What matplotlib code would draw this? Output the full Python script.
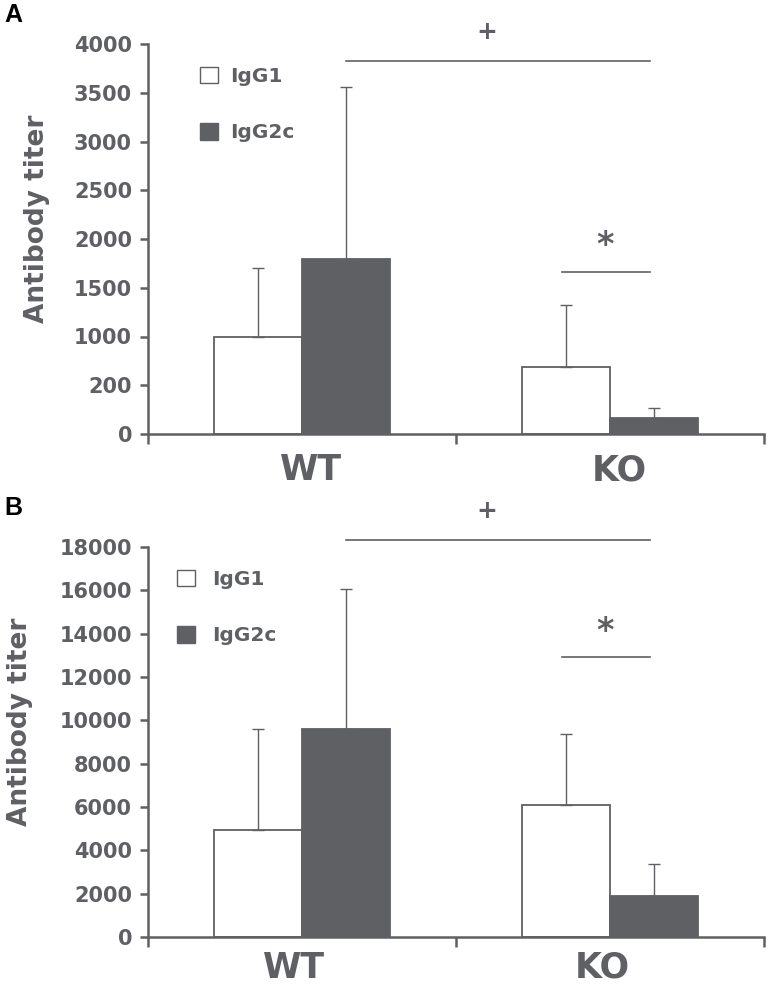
import numpy as np
import matplotlib
matplotlib.use('Agg')
import matplotlib.pyplot as plt

# chart values
groups = ['WT', 'KO']

a_igg1 = [1000, 690]
a_igg1_err = [700, 635]
a_igg2c = [1800, 165]
a_igg2c_err = [1760, 100]
a_ticks = [0, 500, 1000, 1500, 2000, 2500, 3000, 3500, 4000]
a_ticklabels = ['0', '200', '1000', '1500', '2000', '2500', '3000', '3500', '4000']

b_igg1 = [4950, 6100]
b_igg1_err = [4650, 3270]
b_igg2c = [9600, 1900]
b_igg2c_err = [6460, 1470]
b_ticks = [0, 2000, 4000, 6000, 8000, 10000, 12000, 14000, 16000, 18000]
b_ticklabels = [str(t) for t in b_ticks]

GRAY = '#5f6063'
plt.rcParams['font.family'] = ['DejaVu Sans']
plt.rcParams['font.weight'] = 'bold'


def draw_panel(ax, igg1, igg1_err, igg2c, igg2c_err, ticks, ticklabels, ymax,
               plus_y, plus_line_y, star_y, star_line_y, legend_x, pad_text,
               handlepad, label_x, label_dx):
    x = np.arange(len(groups))
    w = 0.286
    ax.bar(x - w / 2, igg1, w, color='white', edgecolor=GRAY, linewidth=1.3,
           label='IgG1', zorder=2)
    ax.bar(x + w / 2, igg2c, w, color=GRAY, edgecolor=GRAY, linewidth=1.3,
           label='IgG2c', zorder=2)
    ax.errorbar(x - w / 2, igg1, yerr=[np.zeros(len(x)), igg1_err], fmt='none',
                ecolor=GRAY, elinewidth=1.0, capsize=4.5, capthick=1.0, zorder=3)
    ax.errorbar(x + w / 2, igg2c, yerr=[np.zeros(len(x)), igg2c_err], fmt='none',
                ecolor=GRAY, elinewidth=1.0, capsize=4.5, capthick=1.0, zorder=1)

    ax.set_xlim(-0.5, 1.5)
    ax.set_ylim(0, ymax)
    ax.set_yticks(ticks)
    ax.set_yticklabels(ticklabels)
    ax.set_xticks([-0.5, 0.5, 1.5])
    ax.set_xticklabels(['', '', ''])
    ax.set_xticks(x + label_dx, minor=True)
    ax.set_xticklabels(groups, minor=True)

    for side in ['top', 'right']:
        ax.spines[side].set_visible(False)
    for side in ['left', 'bottom']:
        ax.spines[side].set_color(GRAY)
        ax.spines[side].set_linewidth(1.8)

    ax.tick_params(axis='y', colors=GRAY, direction='out', length=5.5, width=1.8,
                   labelsize=15, pad=6)
    ax.tick_params(axis='x', which='major', colors=GRAY, direction='out',
                   length=7, width=1.8)
    ax.tick_params(axis='x', which='minor', length=0, labelsize=25,
                   labelcolor=GRAY, pad=pad_text)

    ax.set_ylabel('Antibody titer', fontsize=19, color=GRAY, fontweight='bold')
    ax.yaxis.set_label_coords(label_x, 0.553)

    # significance marks
    ax.plot([0.143, 1.13], [plus_line_y, plus_line_y], color=GRAY, lw=1.2,
            clip_on=False)
    ax.text(0.6, plus_y, '+', ha='center', va='center', fontsize=18, color=GRAY,
            clip_on=False)
    ax.plot([0.845, 1.13], [star_line_y, star_line_y], color=GRAY, lw=1.2,
            clip_on=False)
    ax.text(0.985, star_y, '*', ha='center', va='center', fontsize=24, color=GRAY)

    leg = ax.legend(loc='center left', bbox_to_anchor=(legend_x, 0.845),
                    frameon=False, fontsize=14.5, handlelength=0.9,
                    handleheight=0.9, handletextpad=handlepad, labelspacing=1.85,
                    borderpad=0, borderaxespad=0)
    for t in leg.get_texts():
        t.set_color(GRAY)
    for h in leg.legend_handles:
        h.set_linewidth(1.0)


fig = plt.figure(figsize=(7.68, 9.86), dpi=100)
axA = fig.add_axes([148 / 768, 1 - 434 / 986, 616 / 768, 390 / 986])
axB = fig.add_axes([148 / 768, 1 - 937 / 986, 616 / 768, 390 / 986])

draw_panel(axA, a_igg1, a_igg1_err, a_igg2c, a_igg2c_err, a_ticks, a_ticklabels,
           4000, plus_y=4123, plus_line_y=3826, star_y=1930, star_line_y=1662,
           legend_x=0.084, pad_text=14, handlepad=0.6, label_x=-0.159,
           label_dx=0.03)
draw_panel(axB, b_igg1, b_igg1_err, b_igg2c, b_igg2c_err, b_ticks, b_ticklabels,
           18000, plus_y=19660, plus_line_y=18320, star_y=14100, star_line_y=12920,
           legend_x=0.047, pad_text=10, handlepad=0.85, label_x=-0.187,
           label_dx=-0.026)

fig.text(4 / 768, 1 - 15 / 986, 'A', fontsize=18, fontweight='bold', color='black',
         va='center', ha='left', family='Liberation Sans')
fig.text(4 / 768, 1 - 508 / 986, 'B', fontsize=18, fontweight='bold', color='black',
         va='center', ha='left', family='Liberation Sans')

fig.savefig('out.png', dpi=100)
